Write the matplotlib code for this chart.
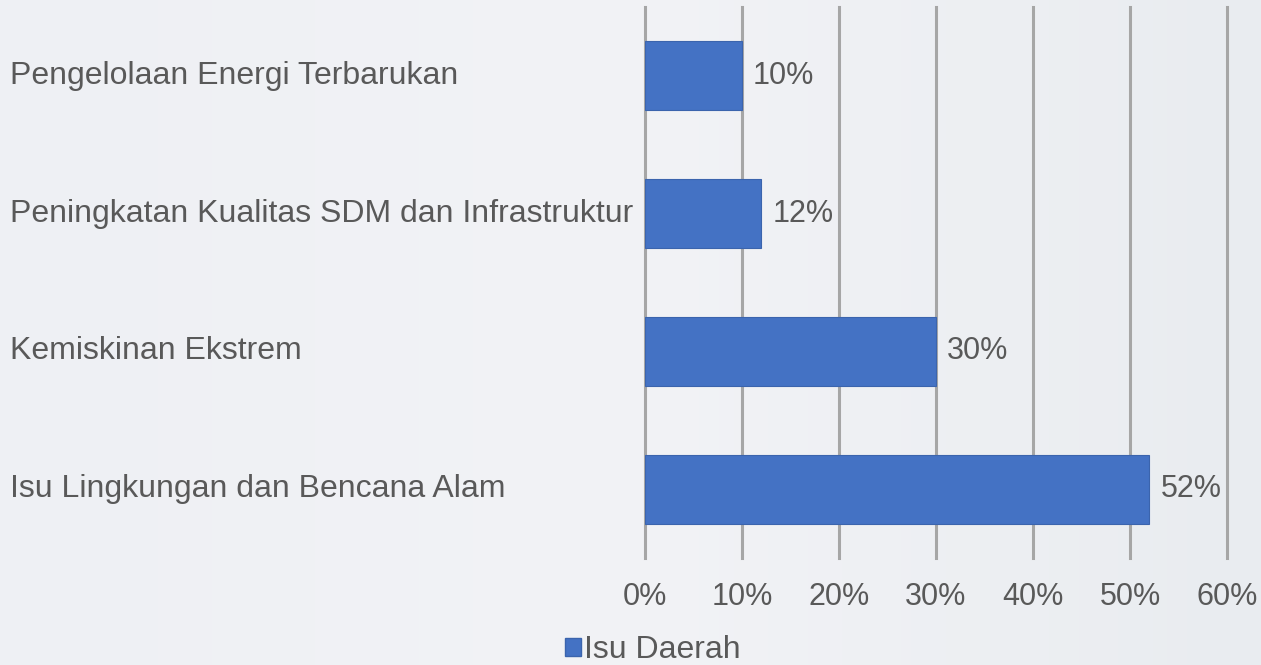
import numpy as np
import matplotlib
matplotlib.use("Agg")
import matplotlib.pyplot as plt
import matplotlib.transforms as mtransforms
from matplotlib.patches import Patch
from matplotlib.colors import LinearSegmentedColormap

categories = ["Isu Lingkungan dan Bencana Alam", "Kemiskinan Ekstrem",
              "Peningkatan Kualitas SDM dan Infrastruktur", "Pengelolaan Energi Terbarukan"]
values = [52, 30, 12, 10]
xticks = [0, 10, 20, 30, 40, 50, 60]
xtick_labels = [f"{v}%" for v in xticks]
series_name = "Isu Daerah"

plt.rcParams['font.family'] = ['Liberation Sans', 'DejaVu Sans']
text_color = "#595959"
bar_color = "#4472C4"

W, H = 1261, 665
fig = plt.figure(figsize=(W / 100, H / 100), dpi=100)

# background gradient
bg = fig.add_axes([0, 0, 1, 1], zorder=-10)
grad = np.linspace(0, 1, 256)[None, :]
cmap = LinearSegmentedColormap.from_list("bg", ["#eef0f4", "#f2f3f6", "#e9ecf0"])
bg.imshow(grad, aspect="auto", cmap=cmap, extent=[0, 1, 0, 1])
bg.set_axis_off()

ax = fig.add_axes([645 / W, 1 - 558 / H, (1227 - 645) / W, (558 - 7) / H])
ax.set_facecolor("none")
y = np.arange(len(categories))
ax.barh(y, values, height=0.5, color=bar_color, edgecolor="#3b64ad", linewidth=0.8, zorder=3)
ax.set_xlim(0, 60)
ax.set_ylim(-0.5, len(categories) - 0.5)
ax.set_xticks(xticks)
ax.set_xticklabels(xtick_labels)
ax.tick_params(axis="x", length=0, pad=17, labelsize=22, labelcolor=text_color)
ax.set_yticks([])
ax.grid(axis="x", color="#a6a6a6", linewidth=2.2, zorder=0)
for gl in ax.get_xgridlines():
    gl.set_clip_on(False)
for s in ax.spines.values():
    s.set_visible(False)

for yi, v in zip(y, values):
    ax.annotate(f"{v}%", xy=(v, yi), xytext=(8, 0), textcoords="offset points",
                va="center", ha="left", fontsize=22, color=text_color)

trans = mtransforms.blended_transform_factory(fig.transFigure, ax.transData)
for yi, c in zip(y, categories):
    fig.text(10 / W, yi, c, transform=trans, ha="left", va="center",
             fontsize=23, color=text_color)

fig.legend(handles=[Patch(facecolor=bar_color, edgecolor="#3b64ad")], labels=[series_name],
           loc="center left", bbox_to_anchor=(565 / W, 15 / H), frameon=False,
           fontsize=23, labelcolor=text_color, handlelength=0.5, handleheight=0.5,
           handletextpad=0.1, borderpad=0, borderaxespad=0)

fig.savefig("out.png", dpi=100)
